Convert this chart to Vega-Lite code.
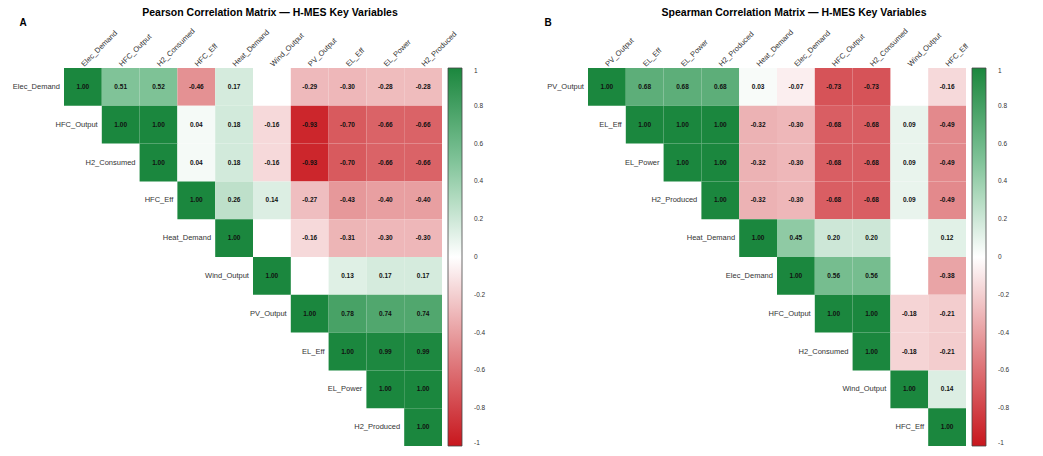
{
  "$schema": "https://vega.github.io/schema/vega-lite/v6.json",
  "background": "white",
  "padding": {"left": 12, "top": 7, "right": 5, "bottom": 5},
  "spacing": 146,
  "bounds": "flush",
  "resolve": {"scale": {"x": "independent", "y": "independent", "color": "independent"}, "legend": {"color": "independent"}},
  "config": {"view": {"stroke": null}, "font": "Liberation Sans"},
  "datasets": {
    "pearson": [
      {"a": "Elec_Demand", "b": "Elec_Demand", "r": 1.00},
      {"a": "Elec_Demand", "b": "HFC_Output", "r": 0.51},
      {"a": "Elec_Demand", "b": "H2_Consumed", "r": 0.52},
      {"a": "Elec_Demand", "b": "HFC_Eff", "r": -0.46},
      {"a": "Elec_Demand", "b": "Heat_Demand", "r": 0.17},
      {"a": "Elec_Demand", "b": "PV_Output", "r": -0.29},
      {"a": "Elec_Demand", "b": "EL_Eff", "r": -0.30},
      {"a": "Elec_Demand", "b": "EL_Power", "r": -0.28},
      {"a": "Elec_Demand", "b": "H2_Produced", "r": -0.28},
      {"a": "HFC_Output", "b": "HFC_Output", "r": 1.00},
      {"a": "HFC_Output", "b": "H2_Consumed", "r": 1.00},
      {"a": "HFC_Output", "b": "HFC_Eff", "r": 0.04},
      {"a": "HFC_Output", "b": "Heat_Demand", "r": 0.18},
      {"a": "HFC_Output", "b": "Wind_Output", "r": -0.16},
      {"a": "HFC_Output", "b": "PV_Output", "r": -0.93},
      {"a": "HFC_Output", "b": "EL_Eff", "r": -0.70},
      {"a": "HFC_Output", "b": "EL_Power", "r": -0.66},
      {"a": "HFC_Output", "b": "H2_Produced", "r": -0.66},
      {"a": "H2_Consumed", "b": "H2_Consumed", "r": 1.00},
      {"a": "H2_Consumed", "b": "HFC_Eff", "r": 0.04},
      {"a": "H2_Consumed", "b": "Heat_Demand", "r": 0.18},
      {"a": "H2_Consumed", "b": "Wind_Output", "r": -0.16},
      {"a": "H2_Consumed", "b": "PV_Output", "r": -0.93},
      {"a": "H2_Consumed", "b": "EL_Eff", "r": -0.70},
      {"a": "H2_Consumed", "b": "EL_Power", "r": -0.66},
      {"a": "H2_Consumed", "b": "H2_Produced", "r": -0.66},
      {"a": "HFC_Eff", "b": "HFC_Eff", "r": 1.00},
      {"a": "HFC_Eff", "b": "Heat_Demand", "r": 0.26},
      {"a": "HFC_Eff", "b": "Wind_Output", "r": 0.14},
      {"a": "HFC_Eff", "b": "PV_Output", "r": -0.27},
      {"a": "HFC_Eff", "b": "EL_Eff", "r": -0.43},
      {"a": "HFC_Eff", "b": "EL_Power", "r": -0.40},
      {"a": "HFC_Eff", "b": "H2_Produced", "r": -0.40},
      {"a": "Heat_Demand", "b": "Heat_Demand", "r": 1.00},
      {"a": "Heat_Demand", "b": "PV_Output", "r": -0.16},
      {"a": "Heat_Demand", "b": "EL_Eff", "r": -0.31},
      {"a": "Heat_Demand", "b": "EL_Power", "r": -0.30},
      {"a": "Heat_Demand", "b": "H2_Produced", "r": -0.30},
      {"a": "Wind_Output", "b": "Wind_Output", "r": 1.00},
      {"a": "Wind_Output", "b": "EL_Eff", "r": 0.13},
      {"a": "Wind_Output", "b": "EL_Power", "r": 0.17},
      {"a": "Wind_Output", "b": "H2_Produced", "r": 0.17},
      {"a": "PV_Output", "b": "PV_Output", "r": 1.00},
      {"a": "PV_Output", "b": "EL_Eff", "r": 0.78},
      {"a": "PV_Output", "b": "EL_Power", "r": 0.74},
      {"a": "PV_Output", "b": "H2_Produced", "r": 0.74},
      {"a": "EL_Eff", "b": "EL_Eff", "r": 1.00},
      {"a": "EL_Eff", "b": "EL_Power", "r": 0.99},
      {"a": "EL_Eff", "b": "H2_Produced", "r": 0.99},
      {"a": "EL_Power", "b": "EL_Power", "r": 1.00},
      {"a": "EL_Power", "b": "H2_Produced", "r": 1.00},
      {"a": "H2_Produced", "b": "H2_Produced", "r": 1.00}
    ],
    "spearman": [
      {"a": "PV_Output", "b": "PV_Output", "r": 1.00},
      {"a": "PV_Output", "b": "EL_Eff", "r": 0.68},
      {"a": "PV_Output", "b": "EL_Power", "r": 0.68},
      {"a": "PV_Output", "b": "H2_Produced", "r": 0.68},
      {"a": "PV_Output", "b": "Heat_Demand", "r": 0.03},
      {"a": "PV_Output", "b": "Elec_Demand", "r": -0.07},
      {"a": "PV_Output", "b": "HFC_Output", "r": -0.73},
      {"a": "PV_Output", "b": "H2_Consumed", "r": -0.73},
      {"a": "PV_Output", "b": "HFC_Eff", "r": -0.16},
      {"a": "EL_Eff", "b": "EL_Eff", "r": 1.00},
      {"a": "EL_Eff", "b": "EL_Power", "r": 1.00},
      {"a": "EL_Eff", "b": "H2_Produced", "r": 1.00},
      {"a": "EL_Eff", "b": "Heat_Demand", "r": -0.32},
      {"a": "EL_Eff", "b": "Elec_Demand", "r": -0.30},
      {"a": "EL_Eff", "b": "HFC_Output", "r": -0.68},
      {"a": "EL_Eff", "b": "H2_Consumed", "r": -0.68},
      {"a": "EL_Eff", "b": "Wind_Output", "r": 0.09},
      {"a": "EL_Eff", "b": "HFC_Eff", "r": -0.49},
      {"a": "EL_Power", "b": "EL_Power", "r": 1.00},
      {"a": "EL_Power", "b": "H2_Produced", "r": 1.00},
      {"a": "EL_Power", "b": "Heat_Demand", "r": -0.32},
      {"a": "EL_Power", "b": "Elec_Demand", "r": -0.30},
      {"a": "EL_Power", "b": "HFC_Output", "r": -0.68},
      {"a": "EL_Power", "b": "H2_Consumed", "r": -0.68},
      {"a": "EL_Power", "b": "Wind_Output", "r": 0.09},
      {"a": "EL_Power", "b": "HFC_Eff", "r": -0.49},
      {"a": "H2_Produced", "b": "H2_Produced", "r": 1.00},
      {"a": "H2_Produced", "b": "Heat_Demand", "r": -0.32},
      {"a": "H2_Produced", "b": "Elec_Demand", "r": -0.30},
      {"a": "H2_Produced", "b": "HFC_Output", "r": -0.68},
      {"a": "H2_Produced", "b": "H2_Consumed", "r": -0.68},
      {"a": "H2_Produced", "b": "Wind_Output", "r": 0.09},
      {"a": "H2_Produced", "b": "HFC_Eff", "r": -0.49},
      {"a": "Heat_Demand", "b": "Heat_Demand", "r": 1.00},
      {"a": "Heat_Demand", "b": "Elec_Demand", "r": 0.45},
      {"a": "Heat_Demand", "b": "HFC_Output", "r": 0.20},
      {"a": "Heat_Demand", "b": "H2_Consumed", "r": 0.20},
      {"a": "Heat_Demand", "b": "HFC_Eff", "r": 0.12},
      {"a": "Elec_Demand", "b": "Elec_Demand", "r": 1.00},
      {"a": "Elec_Demand", "b": "HFC_Output", "r": 0.56},
      {"a": "Elec_Demand", "b": "H2_Consumed", "r": 0.56},
      {"a": "Elec_Demand", "b": "HFC_Eff", "r": -0.38},
      {"a": "HFC_Output", "b": "HFC_Output", "r": 1.00},
      {"a": "HFC_Output", "b": "H2_Consumed", "r": 1.00},
      {"a": "HFC_Output", "b": "Wind_Output", "r": -0.18},
      {"a": "HFC_Output", "b": "HFC_Eff", "r": -0.21},
      {"a": "H2_Consumed", "b": "H2_Consumed", "r": 1.00},
      {"a": "H2_Consumed", "b": "Wind_Output", "r": -0.18},
      {"a": "H2_Consumed", "b": "HFC_Eff", "r": -0.21},
      {"a": "Wind_Output", "b": "Wind_Output", "r": 1.00},
      {"a": "Wind_Output", "b": "HFC_Eff", "r": 0.14},
      {"a": "HFC_Eff", "b": "HFC_Eff", "r": 1.00}
    ]
  },
  "hconcat": [
    {
      "width": 378,
      "height": 378,
      "data": {"name": "pearson"},
      "title": {"text": "Pearson Correlation Matrix — H-MES Key Variables", "frame": "group", "anchor": "middle", "dx": 17, "offset": -1, "fontSize": 10.5, "fontWeight": "bold", "color": "#000"},
      "encoding": {
        "x": {"field": "b", "type": "nominal", "scale": {"domain": ["Elec_Demand", "HFC_Output", "H2_Consumed", "HFC_Eff", "Heat_Demand", "Wind_Output", "PV_Output", "EL_Eff", "EL_Power", "H2_Produced"], "paddingInner": 0, "paddingOuter": 0},
              "axis": {"orient": "top", "title": null, "domain": false, "ticks": false, "labelAngle": -45, "labelAlign": "left", "labelBaseline": "middle", "labelPadding": 3, "labelFontSize": 7.5, "labelColor": "#333", "labelOverlap": false, "labelBound": false, "labelFlush": false}},
        "y": {"field": "a", "type": "nominal", "scale": {"domain": ["Elec_Demand", "HFC_Output", "H2_Consumed", "HFC_Eff", "Heat_Demand", "Wind_Output", "PV_Output", "EL_Eff", "EL_Power", "H2_Produced"], "paddingInner": 0, "paddingOuter": 0},
              "axis": {"labels": false, "ticks": false, "domain": false, "title": "A", "titleAngle": 0, "titleX": -45, "titleY": -43, "titleAlign": "left", "titleBaseline": "alphabetic", "titleFontSize": 10, "titleFontWeight": "bold", "titleColor": "#000"}}
      },
      "layer": [
        {"mark": {"type": "rect"},
         "encoding": {"color": {"field": "r", "type": "quantitative",
           "scale": {"domain": [-1, -0.5, 0, 0.5, 1], "range": ["#C8161D", "#E2878A", "#FFFFFF", "#82C49A", "#1B873E"], "interpolate": "rgb"},
           "legend": {"title": null, "orient": "right", "direction": "vertical", "gradientLength": 378, "gradientThickness": 14, "offset": 6, "values": [1, 0.8, 0.6, 0.4, 0.2, 0, -0.2, -0.4, -0.6, -0.8, -1], "labelFontSize": 6.5, "labelColor": "#333", "labelOffset": 12, "labelBaseline": "middle", "labelOverlap": false, "gradientStrokeColor": "#444", "gradientStrokeWidth": 0.8, "labelExpr": "replace(format(datum.value,'~g'),'\u2212','-')"}}}},
        {"transform": [{"calculate": "replace(format(datum.r,'.2f'),'\u2212','-')", "as": "lab"}],
         "mark": {"type": "text", "fontSize": 6.5, "fontWeight": "bold", "color": "#111"},
         "encoding": {"text": {"field": "lab", "type": "nominal"}}},
        {"transform": [{"filter": "datum.a === datum.b"}],
         "mark": {"type": "text", "align": "right", "dx": -23, "fontSize": 7.5, "color": "#333"},
         "encoding": {"text": {"field": "a", "type": "nominal"}}}
      ]
    },
    {
      "width": 378,
      "height": 378,
      "data": {"name": "spearman"},
      "title": {"text": "Spearman Correlation Matrix — H-MES Key Variables", "frame": "group", "anchor": "middle", "dx": 17, "offset": -1, "fontSize": 10.5, "fontWeight": "bold", "color": "#000"},
      "encoding": {
        "x": {"field": "b", "type": "nominal", "scale": {"domain": ["PV_Output", "EL_Eff", "EL_Power", "H2_Produced", "Heat_Demand", "Elec_Demand", "HFC_Output", "H2_Consumed", "Wind_Output", "HFC_Eff"], "paddingInner": 0, "paddingOuter": 0},
              "axis": {"orient": "top", "title": null, "domain": false, "ticks": false, "labelAngle": -45, "labelAlign": "left", "labelBaseline": "middle", "labelPadding": 3, "labelFontSize": 7.5, "labelColor": "#333", "labelOverlap": false, "labelBound": false, "labelFlush": false}},
        "y": {"field": "a", "type": "nominal", "scale": {"domain": ["PV_Output", "EL_Eff", "EL_Power", "H2_Produced", "Heat_Demand", "Elec_Demand", "HFC_Output", "H2_Consumed", "Wind_Output", "HFC_Eff"], "paddingInner": 0, "paddingOuter": 0},
              "axis": {"labels": false, "ticks": false, "domain": false, "title": "B", "titleAngle": 0, "titleX": -44, "titleY": -43, "titleAlign": "left", "titleBaseline": "alphabetic", "titleFontSize": 10, "titleFontWeight": "bold", "titleColor": "#000"}}
      },
      "layer": [
        {"mark": {"type": "rect"},
         "encoding": {"color": {"field": "r", "type": "quantitative",
           "scale": {"domain": [-1, -0.5, 0, 0.5, 1], "range": ["#C8161D", "#E2878A", "#FFFFFF", "#82C49A", "#1B873E"], "interpolate": "rgb"},
           "legend": {"title": null, "orient": "right", "direction": "vertical", "gradientLength": 378, "gradientThickness": 14, "offset": 6, "values": [1, 0.8, 0.6, 0.4, 0.2, 0, -0.2, -0.4, -0.6, -0.8, -1], "labelFontSize": 6.5, "labelColor": "#333", "labelOffset": 12, "labelBaseline": "middle", "labelOverlap": false, "gradientStrokeColor": "#444", "gradientStrokeWidth": 0.8, "labelExpr": "replace(format(datum.value,'~g'),'\u2212','-')"}}}},
        {"transform": [{"calculate": "replace(format(datum.r,'.2f'),'\u2212','-')", "as": "lab"}],
         "mark": {"type": "text", "fontSize": 6.5, "fontWeight": "bold", "color": "#111"},
         "encoding": {"text": {"field": "lab", "type": "nominal"}}},
        {"transform": [{"filter": "datum.a === datum.b"}],
         "mark": {"type": "text", "align": "right", "dx": -23, "fontSize": 7.5, "color": "#333"},
         "encoding": {"text": {"field": "a", "type": "nominal"}}}
      ]
    }
  ]
}
